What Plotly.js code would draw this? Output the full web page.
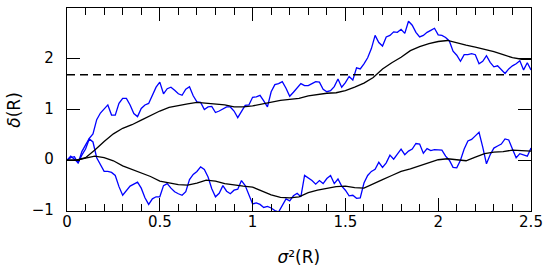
<!DOCTYPE html>
<html>
<head>
<meta charset="utf-8">
<script src="https://cdn.plot.ly/plotly-3.0.1.min.js"></script>
<style>html,body{margin:0;padding:0;background:#fff;}#chart{width:546px;height:270px;}</style>
</head>
<body>
<div id="chart"></div>
<script>
// sigma^2 grid of the two random walks (step 0.02)
const sigmaWalk = [0.00,0.02,0.04,0.06,0.08,0.10,0.12,0.14,0.16,0.18,0.20,0.22,0.24,0.26,0.28,0.30,0.32,0.34,0.36,0.38,
0.40,0.42,0.44,0.46,0.48,0.50,0.52,0.54,0.56,0.58,0.60,0.62,0.64,0.66,0.68,0.70,0.72,0.74,0.76,0.78,
0.80,0.82,0.84,0.86,0.88,0.90,0.92,0.94,0.96,0.98,1.00,1.02,1.04,1.06,1.08,1.10,1.12,1.14,1.16,1.18,
1.20,1.22,1.24,1.26,1.28,1.30,1.32,1.34,1.36,1.38,1.40,1.42,1.44,1.46,1.48,1.50,1.52,1.54,1.56,1.58,
1.60,1.62,1.64,1.66,1.68,1.70,1.72,1.74,1.76,1.78,1.80,1.82,1.84,1.86,1.88,1.90,1.92,1.94,1.96,1.98,
2.00,2.02,2.04,2.06,2.08,2.10,2.12,2.14,2.16,2.18,2.20,2.22,2.24,2.26,2.28,2.30,2.32,2.34,2.36,2.38,
2.40,2.42,2.44,2.46,2.48,2.50];

const walkUpper = [0.00,0.05,0.07,-0.06,0.17,0.30,0.43,0.52,0.80,0.93,1.02,1.09,0.89,0.89,1.12,1.22,1.22,1.09,0.92,0.86,
1.02,1.09,1.12,1.28,1.44,1.54,1.31,1.41,1.44,1.38,1.31,1.28,1.40,1.45,1.27,1.15,1.14,1.00,1.05,1.06,
0.94,0.97,1.01,1.05,1.05,0.97,0.84,0.95,1.08,1.09,1.24,1.25,1.28,1.17,1.05,1.35,1.49,1.51,1.55,1.42,
1.26,1.34,1.42,1.51,1.47,1.47,1.51,1.55,1.54,1.40,1.35,1.37,1.45,1.60,1.44,1.53,1.65,1.58,1.82,1.80,
1.90,2.02,2.20,2.46,2.32,2.25,2.43,2.46,2.53,2.52,2.58,2.50,2.74,2.66,2.52,2.43,2.46,2.52,2.56,2.60,
2.47,2.46,2.42,2.35,2.15,2.07,1.95,2.08,2.08,2.10,2.08,1.90,1.95,2.06,1.93,1.84,1.86,1.78,1.71,1.80,
1.86,1.90,1.96,1.78,1.92,1.78];

const walkLower = [0.00,0.08,0.02,-0.05,0.10,0.22,0.42,0.36,0.05,-0.10,-0.22,-0.22,-0.24,-0.30,-0.52,-0.69,-0.60,-0.51,-0.47,-0.43,
-0.55,-0.74,-0.87,-0.76,-0.72,-0.72,-0.50,-0.46,-0.55,-0.62,-0.66,-0.69,-0.62,-0.38,-0.28,-0.22,-0.13,-0.18,-0.33,-0.56,
-0.72,-0.65,-0.50,-0.61,-0.66,-0.59,-0.57,-0.40,-0.50,-0.70,-0.86,-0.84,-0.87,-0.93,-0.91,-0.94,-0.99,-1.02,-0.89,-0.76,
-0.80,-0.70,-0.65,-0.72,-0.30,-0.35,-0.40,-0.47,-0.40,-0.46,-0.36,-0.30,-0.46,-0.37,-0.51,-0.59,-0.70,-0.69,-0.75,-0.74,
-0.45,-0.30,-0.22,-0.18,-0.04,-0.14,-0.05,0.10,0.02,0.12,0.22,0.11,0.18,0.22,0.33,0.32,0.14,0.23,0.19,0.21,
0.20,0.20,0.08,0.00,-0.14,-0.15,0.00,0.22,0.38,0.41,0.48,0.55,0.26,-0.07,0.11,0.24,0.28,0.32,0.42,0.40,
0.22,0.05,0.13,0.11,0.08,0.24];

// smooth (black) curves
const sigmaSmooth = [0.00,0.05,0.10,0.15,0.20,0.25,0.30,0.35,0.40,0.45,0.50,0.55,0.60,0.65,0.70,0.75,0.80,0.85,0.90,0.95,
1.00,1.05,1.10,1.15,1.20,1.25,1.30,1.35,1.40,1.45,1.50,1.55,1.60,1.65,1.70,1.75,1.80,1.85,1.90,1.95,
2.00,2.05,2.10,2.15,2.20,2.25,2.30,2.35,2.40,2.45,2.50];
const smoothUpper = [0.00,0.00,0.05,0.20,0.37,0.52,0.63,0.70,0.79,0.88,0.97,1.04,1.08,1.11,1.14,1.12,1.11,1.09,1.05,1.05,
1.07,1.11,1.14,1.18,1.20,1.22,1.27,1.30,1.32,1.33,1.37,1.44,1.52,1.63,1.80,1.92,2.03,2.16,2.24,2.30,
2.34,2.36,2.31,2.27,2.23,2.19,2.14,2.08,2.02,1.99,1.99];
const smoothLower = [0.00,0.00,0.04,0.08,0.05,-0.01,-0.11,-0.18,-0.25,-0.32,-0.41,-0.45,-0.48,-0.49,-0.45,-0.39,-0.41,-0.46,-0.49,-0.51,
-0.53,-0.60,-0.68,-0.73,-0.74,-0.72,-0.64,-0.59,-0.55,-0.52,-0.51,-0.54,-0.55,-0.46,-0.38,-0.30,-0.22,-0.17,-0.11,-0.05,
0.01,0.03,0.01,-0.01,0.06,0.13,0.16,0.17,0.20,0.19,0.18];

// collapse threshold
const deltaC = 1.686;
const xRange = [0, 2.5];
const yRange = [-1, 3];
const xTickVals = [0, 0.5, 1, 1.5, 2, 2.5];
const xTickText = ['0', '0.5', '1', '1.5', '2', '2.5'];
const yTickVals = [-1, 0, 1, 2, 3];
const yTickText = ['\u22121\u00a0\u00a0', '0\u00a0\u00a0', '1\u00a0\u00a0', '2\u00a0\u00a0', '3\u00a0\u00a0'];
const xTitle = '<i>σ</i>²(R)';
const yTitle = '<i>δ</i>(R)';

const FONT = 'DejaVu Sans, sans-serif';

const traces = [
  {x: sigmaWalk, y: walkUpper, mode: 'lines', line: {color: '#0000ff', width: 1.3}},
  {x: sigmaWalk, y: walkLower, mode: 'lines', line: {color: '#0000ff', width: 1.3}},
  {x: sigmaSmooth, y: smoothUpper, mode: 'lines', line: {color: '#000000', width: 1.3}},
  {x: sigmaSmooth, y: smoothLower, mode: 'lines', line: {color: '#000000', width: 1.3}},
  {x: xRange, y: [deltaC, deltaC], mode: 'lines', line: {color: '#000000', width: 1.5, dash: '8px,5px'}}
];

const layout = {
  width: 546, height: 270,
  margin: {l: 67, r: 15, t: 8, b: 59},
  showlegend: false,
  xaxis: {
    range: xRange, tickmode: 'array', tickvals: xTickVals, ticktext: xTickText,
    ticks: 'inside', ticklen: 13, tickwidth: 1, tickcolor: '#000',
    minor: {dtick: 0.1, ticks: 'inside', ticklen: 7},
    showline: true, linecolor: '#000', linewidth: 1.3, mirror: 'ticks',
    showgrid: false, zeroline: false
  },
  yaxis: {
    range: yRange, tickmode: 'array', tickvals: yTickVals, ticktext: yTickText,
    ticks: 'inside', ticklen: 13, tickwidth: 1, tickcolor: '#000',
    showline: true, linecolor: '#000', linewidth: 1.3, mirror: 'ticks',
    showgrid: false, zeroline: false
  },
  annotations: [
    {text: xTitle, xref: 'paper', yref: 'paper', x: 0.5, y: 0, xanchor: 'center', yanchor: 'middle',
     yshift: -47, showarrow: false},
    {text: yTitle, xref: 'paper', yref: 'paper', x: 0, y: 0.5, xanchor: 'center', yanchor: 'middle',
     xshift: -52, textangle: -90, showarrow: false}
  ]
};

Plotly.newPlot('chart', traces, layout, {displayModeBar: false}).then(function (gd) {
  try {
    gd.querySelectorAll('g.xtick text, g.ytick text').forEach(function (t) {
      t.style.fontFamily = FONT; t.style.fontSize = '15px'; t.style.fill = '#000';
    });
    gd.querySelectorAll('g.annotation text').forEach(function (t) {
      t.style.fontFamily = FONT; t.style.fontSize = '17px'; t.style.fill = '#000';
    });
  } catch (e) {}
});
</script>
</body>
</html>
